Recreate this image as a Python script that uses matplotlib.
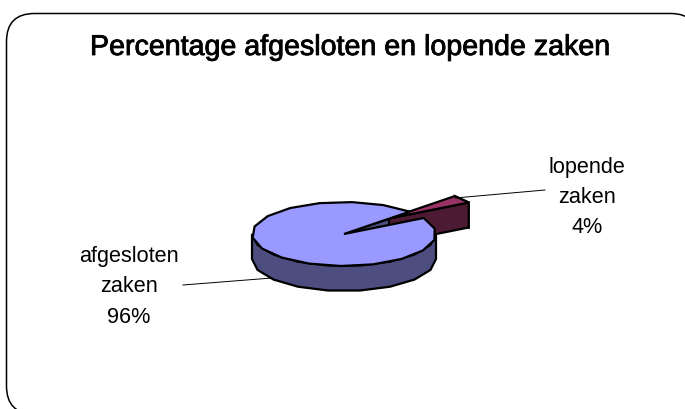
import numpy as np
import matplotlib
matplotlib.use('Agg')
import matplotlib.pyplot as plt
import matplotlib.patheffects as pe
from matplotlib.patches import Polygon, FancyBboxPatch

plt.rcParams['font.family'] = ['Liberation Sans', 'DejaVu Sans']

title = 'Percentage afgesloten en lopende zaken'
labels = [['afgesloten', 'zaken', '96%'], ['lopende', 'zaken', '4%']]
values = [96, 4]
colors_top = ['#9999FF', '#993366']
colors_side = ['#4D4D80', '#4D1A33']

cx, cy = 344, 234
rx, ry = 92, 32
depth = 25
explode = (45, -15.5)
start_angle = 30

def rim(a0, a1, dx=0, dy=0):
    # ellipse points between two angles, coarse like the original
    n = max(int(abs(a1 - a0) / 20), 1)
    t = np.radians(np.linspace(a0, a1, n + 1))
    return np.column_stack([cx + dx + rx * np.cos(t), cy + dy - ry * np.sin(t)])

fig = plt.figure(figsize=(6.85, 4.09), dpi=100)
ax = fig.add_axes([0, 0, 1, 1])
ax.set_xlim(0, 685)
ax.set_ylim(409, 0)
ax.axis('off')

# frame runs off the right and bottom edges
ax.add_patch(FancyBboxPatch((6.5, 13.5), 692, 400.5, boxstyle='round,pad=0,rounding_size=28',
                            fc='white', ec='black', lw=1.1))

small = values[1] / sum(values) * 360
end_angle = start_angle + small
c = np.array([[cx, cy]])
d = np.array([0, depth])
ex, ey = explode

# wall of the cut in the big slice
p = rim(end_angle, end_angle)[0]
ax.add_patch(Polygon([[cx, cy], p, p + d, [cx, cy + depth]], fc=colors_side[0], ec='black', lw=1.6))

# exploded slice
arc = rim(start_angle, end_angle, ex, ey)
tip = np.array([cx + ex, cy + ey])
low = arc[0]
ax.add_patch(Polygon(np.vstack([arc, arc[::-1] + d]), fc=colors_side[1], ec='black', lw=1.6))
ax.add_patch(Polygon([tip, low, low + d, tip + d], fc=colors_side[1], ec='black', lw=1.6))
ax.add_patch(Polygon(np.vstack([[tip], arc]), fc=colors_top[1], ec='black', lw=1.6))

# big slice
front = rim(180, 360)
ax.add_patch(Polygon(np.vstack([front, front[::-1] + d]), fc=colors_side[0], ec='black', lw=1.6))
top = rim(end_angle, start_angle + 360)
ax.add_patch(Polygon(np.vstack([c, top]), fc=colors_top[0], ec='black', lw=1.6))

# leader lines
ax.plot([183, 272], [285, 278], color='black', lw=0.7)
ax.plot([455, 545], [198, 190], color='black', lw=0.7)

t = ax.text(350.5, 55, title, ha='center', va='baseline', fontsize=20.6, color='black')
t.set_path_effects([pe.withStroke(linewidth=0.6, foreground='black')])
for i, s in enumerate(labels[0]):
    ax.text(129, [262, 292, 323][i], s, ha='center', va='baseline', fontsize=15.6)
for i, s in enumerate(labels[1]):
    ax.text(587, [173, 203, 233][i], s, ha='center', va='baseline', fontsize=15.6)

fig.savefig('out.png', dpi=100)
